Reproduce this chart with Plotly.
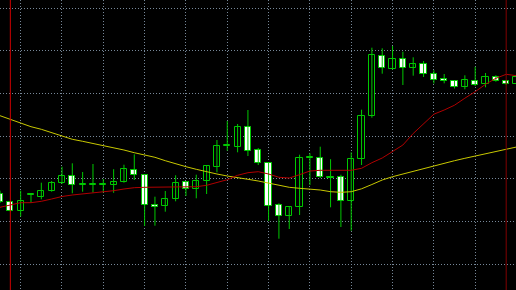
import plotly.graph_objects as go

# ---- data (price in chart units) ----
bar_index = list(range(51))
open_ = [96.2, 87.7, 79.0, 94.7, 93.3, 99.0, 106.7, 113.7, 105.5, 105.5,
         105.5, 104.7, 108.0, 120.3, 114.7, 85.0, 84.3, 91.3, 108.0, 101.3,
         109.0, 123.0, 144.0, 143.3, 162.7, 140.0, 126.7, 84.7, 73.8, 82.7,
         132.2, 132.3, 112.2, 112.7, 88.8, 131.0, 173.7, 233.7, 220.7, 231.0,
         222.0, 226.0, 216.3, 210.7, 209.0, 202.7, 209.5, 205.7, 213.3, 209.0,
         206.5]
high = [99.3, 88.0, 99.3, 96.0, 107.3, 109.0, 123.3, 126.7, 118.0, 126.0,
        111.0, 120.8, 125.3, 135.7, 115.0, 93.3, 99.0, 114.7, 109.0, 115.3,
        124.7, 150.0, 169.0, 166.0, 180.0, 142.0, 127.3, 86.7, 84.0, 135.3,
        136.7, 143.3, 130.8, 115.3, 137.7, 180.3, 242.3, 241.7, 244.0, 238.3,
        232.7, 229.0, 219.8, 216.0, 209.5, 214.7, 223.2, 217.0, 214.7, 210.0,
        215.0]
low = [87.0, 78.5, 73.5, 87.0, 90.7, 98.3, 106.0, 96.7, 98.3, 97.5,
       97.5, 97.2, 107.3, 110.0, 64.0, 64.3, 78.3, 88.7, 94.0, 91.7,
       96.0, 117.7, 139.3, 137.7, 134.0, 125.0, 69.0, 51.3, 61.0, 75.0,
       105.0, 112.0, 82.7, 63.0, 59.3, 125.0, 172.3, 216.3, 220.5, 205.0,
       214.3, 213.0, 206.5, 206.7, 201.5, 200.7, 204.0, 202.7, 208.3, 205.0,
       206.0]
close = [87.7, 79.3, 89.0, 95.7, 99.5, 107.0, 113.7, 105.3, 106.0, 106.0,
         106.0, 107.8, 120.7, 115.0, 84.7, 83.0, 90.7, 107.3, 101.3, 109.0,
         124.0, 144.0, 144.6, 162.7, 139.3, 126.7, 84.3, 74.0, 83.3, 132.5,
         132.8, 112.7, 112.8, 89.0, 130.8, 173.7, 234.7, 221.7, 231.0, 222.0,
         226.0, 216.3, 210.5, 209.0, 202.7, 209.7, 204.7, 213.3, 209.0, 205.7,
         212.7]
ma_fast = [82.7, 85.0, 87.3, 87.3, 88.7, 91.0, 93.5, 95.0, 96.0, 97.0,
           98.0, 99.3, 101.0, 102.3, 102.7, 102.7, 102.7, 103.3, 103.3, 103.3,
           104.7, 107.3, 110.3, 114.7, 117.3, 118.3, 116.0, 112.7, 112.0, 115.3,
           119.0, 119.7, 119.7, 119.0, 119.7, 121.7, 127.3, 132.0, 138.3, 145.0,
           156.5, 165.7, 175.8, 180.0, 184.8, 191.8, 198.3, 205.7, 211.7, 215.7,
           214.3]
ma_slow = [174.3, 170.7, 166.7, 163.3, 160.7, 157.3, 154.0, 150.7, 148.7, 146.7,
           144.0, 142.0, 140.0, 137.3, 135.3, 132.7, 129.3, 126.0, 123.3, 120.7,
           118.0, 116.0, 114.0, 112.0, 110.7, 109.0, 106.7, 104.7, 102.7, 101.7,
           101.0, 100.0, 98.3, 97.7, 98.3, 101.2, 105.5, 110.0, 113.3, 116.0,
           119.0, 121.7, 124.3, 126.7, 129.3, 131.7, 134.0, 136.7, 138.7, 140.7,
           143.0]
separators = [1, 49]
separator_colors = ["#d00000", "#800000"]

GREEN = "#00c800"

fig = go.Figure()

# wicks
wx, wy = [], []
for i, h, l in zip(bar_index, high, low):
    wx += [i, i, None]
    wy += [l, h, None]
fig.add_trace(go.Scatter(x=wx, y=wy, mode="lines",
                         line=dict(color=GREEN, width=1), hoverinfo="skip"))

# bodies
fills = ["#000000" if c >= o else "#ffffff" for o, c in zip(open_, close)]
fig.add_trace(go.Bar(x=bar_index, base=open_,
                     y=[c - o for o, c in zip(open_, close)],
                     width=0.6,
                     marker=dict(color=fills, line=dict(color=GREEN, width=1))))

# moving averages
fig.add_trace(go.Scatter(x=bar_index, y=ma_slow, mode="lines",
                         line=dict(color="#c8c800", width=1)))
fig.add_trace(go.Scatter(x=bar_index, y=ma_fast, mode="lines",
                         line=dict(color="#b00000", width=1)))

for s, col in zip(separators, separator_colors):
    fig.add_shape(type="line", xref="x", yref="paper", x0=s, x1=s, y0=0, y1=1,
                  line=dict(color=col, width=1), layer="above")

fig.update_layout(
    width=516, height=290, margin=dict(l=0, r=0, t=0, b=0),
    paper_bgcolor="#000000", plot_bgcolor="#000000",
    showlegend=False, bargap=0,
    xaxis=dict(range=[0, 49.95], tick0=2, dtick=4, showticklabels=False,
               zeroline=False, showline=False, showgrid=True,
               gridcolor="#778899", griddash="1px,2px", gridwidth=1),
    yaxis=dict(range=[0, 290], tick0=25.7, dtick=42.7, showticklabels=False,
               zeroline=False, showline=False, showgrid=True,
               gridcolor="#778899", griddash="1px,2px", gridwidth=1),
)

fig.write_html("out.html")
